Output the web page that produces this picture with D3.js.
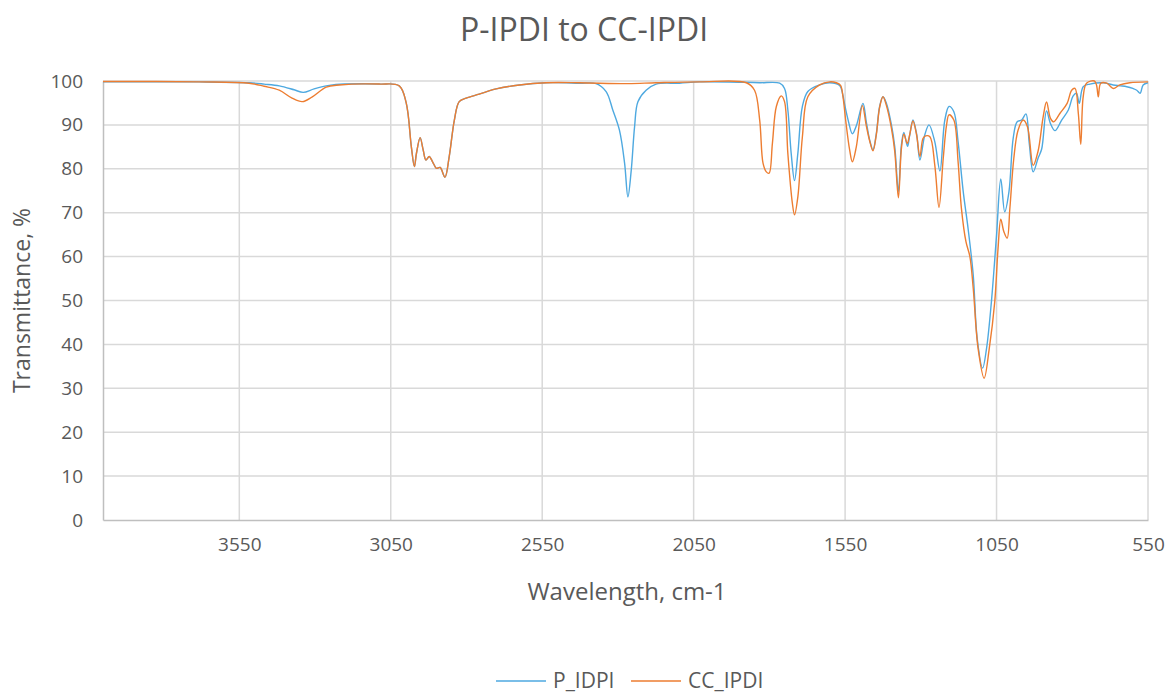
<!DOCTYPE html>
<html>
<head>
<meta charset="utf-8">
<script src="https://cdn.jsdelivr.net/npm/d3@7"></script>
<style>
  body { margin: 0; background: #fff; }
  text { font-family: "Open Sans", sans-serif; fill: #595959; }
</style>
</head>
<body>
<script>
// series readings: [wavenumber cm-1, transmittance %]
const shared = [
  [3088, 99.3], [3022, 98.9], [2999, 95.0], [2982, 85.0], [2972, 80.5], [2965, 83.6],
  [2953, 87.1], [2943, 84.3], [2934, 82.0], [2923, 82.8], [2912, 81.6], [2899, 80.1],
  [2887, 80.3], [2871, 78.1], [2857, 82.8], [2840, 91.1], [2824, 95.3], [2801, 96.1],
  [2758, 97.0], [2702, 98.2], [2625, 99.1], [2537, 99.6]
];

const pIdpi = [
  [4000, 99.8], [3683, 99.8], [3518, 99.6], [3468, 99.3], [3418, 98.9], [3369, 98.0],
  [3339, 97.4], [3303, 98.2], [3253, 99.0], [3204, 99.3],
  ...shared,
  [2427, 99.5], [2372, 99.4], [2339, 97.6], [2317, 93.4], [2295, 88.8], [2278, 81.3],
  [2267, 73.6], [2256, 79.7], [2245, 89.6], [2234, 95.3], [2207, 97.9], [2174, 99.3],
  [2097, 99.5], [2031, 99.8], [1882, 99.7], [1832, 99.6], [1766, 99.5], [1750, 98.3],
  [1739, 93.4], [1728, 83.5], [1717, 77.3], [1706, 83.5], [1691, 94.2], [1673, 97.6],
  [1634, 99.1], [1601, 99.6], [1568, 99.0], [1558, 97.0], [1551, 94.5], [1540, 91.1],
  [1526, 88.0], [1513, 89.8], [1491, 94.9], [1480, 90.7], [1469, 86.6], [1458, 84.3],
  [1447, 88.0], [1436, 94.2], [1425, 96.4], [1414, 95.0], [1397, 90.0], [1386, 85.0],
  [1374, 74.8], [1364, 85.5], [1356, 88.3], [1344, 85.1], [1337, 87.5], [1326, 91.1],
  [1314, 88.0], [1303, 82.0], [1287, 87.7], [1273, 90.0], [1254, 86.2], [1237, 79.5],
  [1221, 91.0], [1207, 94.2], [1191, 93.0], [1177, 86.2], [1160, 74.8], [1144, 66.4],
  [1127, 55.8], [1114, 41.4], [1096, 34.6], [1083, 39.1], [1067, 49.7], [1050, 64.9],
  [1036, 77.7], [1023, 70.2], [1009, 74.8], [995, 87.0], [982, 90.7], [967, 91.1],
  [953, 92.5], [942, 85.8], [929, 79.3], [913, 82.4], [901, 84.5], [885, 93.2],
  [872, 90.3], [857, 88.7], [835, 91.1], [813, 93.4], [797, 96.6], [786, 97.2],
  [777, 94.9], [764, 98.7], [742, 99.3], [698, 99.6], [665, 99.1], [640, 98.9],
  [620, 98.7], [600, 98.3], [587, 97.9], [576, 97.2], [566, 99.1], [550, 99.6]
];

const ccIpdi = [
  [4000, 99.9], [3683, 99.8], [3518, 99.5], [3468, 98.8], [3418, 97.9], [3376, 96.1],
  [3342, 95.3], [3309, 96.4], [3263, 98.6], [3220, 99.1],
  ...shared,
  [2427, 99.6], [2267, 99.4], [2174, 99.6], [2031, 99.8], [1876, 99.6], [1849, 97.9],
  [1832, 91.1], [1821, 81.3], [1810, 79.3], [1801, 79.0], [1790, 85.8], [1777, 94.2],
  [1761, 96.6], [1750, 95.3], [1739, 83.5], [1724, 72.1], [1717, 69.5], [1706, 73.6],
  [1691, 87.3], [1673, 96.4], [1634, 99.1], [1601, 99.8], [1579, 99.6], [1565, 99.0],
  [1557, 96.4], [1548, 91.0], [1535, 84.3], [1526, 81.6], [1513, 85.0], [1493, 94.4],
  [1480, 89.8], [1469, 86.4], [1458, 84.1], [1447, 87.7], [1436, 94.0], [1425, 96.4],
  [1414, 94.5], [1397, 89.2], [1386, 83.9], [1374, 73.4], [1364, 84.7], [1356, 87.9],
  [1345, 85.8], [1337, 87.7], [1326, 90.9], [1314, 87.7], [1303, 82.8], [1293, 86.9],
  [1284, 87.5], [1270, 87.3], [1254, 80.9], [1240, 71.2], [1226, 82.4], [1215, 90.0],
  [1207, 92.3], [1191, 91.1], [1177, 81.6], [1166, 71.0], [1151, 63.4], [1138, 60.0],
  [1127, 52.8], [1111, 39.1], [1091, 32.3], [1074, 39.1], [1056, 49.7], [1045, 61.9],
  [1036, 68.5], [1026, 65.7], [1015, 64.2], [1006, 71.0], [993, 82.4], [979, 88.8],
  [962, 91.1], [948, 89.6], [929, 80.8], [913, 84.0], [896, 91.9], [885, 95.2],
  [872, 91.5], [861, 90.7], [841, 92.6], [817, 94.9], [802, 97.9], [791, 98.3],
  [780, 92.6], [772, 85.6], [764, 96.4], [753, 99.5], [727, 100], [720, 99.1],
  [714, 96.4], [706, 99.5], [686, 99.5], [665, 98.3], [643, 99.1], [610, 99.6],
  [550, 99.8]
];

const xTicks = [3550, 3050, 2550, 2050, 1550, 1050, 550];
const yTicks = [0, 10, 20, 30, 40, 50, 60, 70, 80, 90, 100];
const seriesNames = ["P_IDPI", "CC_IPDI"];
const colors = ["#4ea9e0", "#ed7d31"];

const width = 1172, height = 695;
const margin = { left: 103, right: 24, top: 81, bottom: 175 };

const svg = d3.select("body").append("svg")
  .attr("width", width)
  .attr("height", height);

const x = d3.scaleLinear().domain([4000, 550]).range([margin.left, width - margin.right]);
const y = d3.scaleLinear().domain([0, 100]).range([height - margin.bottom, margin.top]);

// gridlines
svg.append("g")
  .selectAll("line.h")
  .data(yTicks.slice(1))
  .join("line")
  .attr("x1", x.range()[0]).attr("x2", x.range()[1])
  .attr("y1", d => y(d)).attr("y2", d => y(d))
  .attr("stroke", "#d9d9d9").attr("stroke-width", 1.5);

svg.append("g")
  .selectAll("line.v")
  .data(xTicks)
  .join("line")
  .attr("x1", d => x(d)).attr("x2", d => x(d))
  .attr("y1", y(0)).attr("y2", y(100))
  .attr("stroke", "#d9d9d9").attr("stroke-width", 1.5);

// axes
const xAxis = svg.append("g")
  .attr("transform", `translate(0,${y(0)})`)
  .call(d3.axisBottom(x).tickValues(xTicks).tickFormat(d3.format("d")).tickSize(0).tickPadding(18));
xAxis.select(".domain").attr("stroke", "#bfbfbf").attr("stroke-width", 1.5);
xAxis.selectAll("text").attr("font-size", 19).style("fill", "#595959");

const yAxis = svg.append("g")
  .attr("transform", `translate(${x.range()[0]},0)`)
  .call(d3.axisLeft(y).tickValues(yTicks).tickFormat(d3.format("d")).tickSize(0).tickPadding(20));
yAxis.select(".domain").attr("stroke", "#bfbfbf").attr("stroke-width", 1.5);
yAxis.selectAll("text").attr("font-size", 19).style("fill", "#595959");

// lines
const line = d3.line()
  .x(d => x(d[0]))
  .y(d => y(d[1]))
  .curve(d3.curveCatmullRom.alpha(0.5));

[pIdpi, ccIpdi].forEach((s, i) => {
  svg.append("path")
    .datum(s)
    .attr("fill", "none")
    .attr("stroke", colors[i])
    .attr("stroke-width", 1.4)
    .attr("d", line);
});

// titles
svg.append("text")
  .attr("x", 584).attr("y", 41)
  .attr("text-anchor", "middle")
  .attr("font-size", 32)
  .text("P-IPDI to CC-IPDI");

svg.append("text")
  .attr("x", 627).attr("y", 600)
  .attr("text-anchor", "middle")
  .attr("font-size", 24)
  .text("Wavelength, cm-1");

svg.append("text")
  .attr("transform", `translate(30,${(y(0) + y(100)) / 2}) rotate(-90)`)
  .attr("text-anchor", "middle")
  .attr("font-size", 23)
  .text("Transmittance, %");

// legend
const legendX = [496, 631];
seriesNames.forEach((name, i) => {
  const g = svg.append("g").attr("transform", `translate(${legendX[i]},681)`);
  g.append("line")
    .attr("x1", 0).attr("x2", 50)
    .attr("stroke", colors[i]).attr("stroke-width", 1.5);
  g.append("text")
    .attr("x", 57).attr("y", 7)
    .attr("font-size", 21)
    .text(name);
});
</script>
</body>
</html>
